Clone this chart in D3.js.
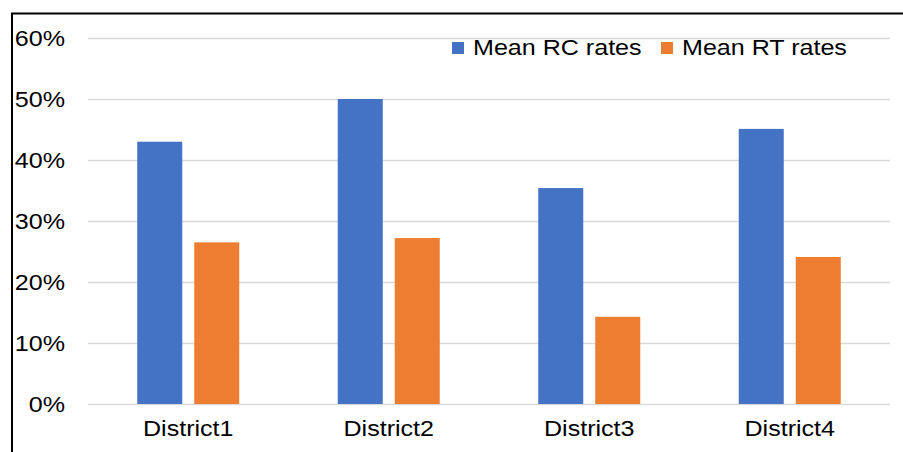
<!DOCTYPE html>
<html><head><meta charset="utf-8">
<script src="https://cdn.jsdelivr.net/npm/d3@7"></script>
<style>body{margin:0;background:#fff;}svg{display:block;font-family:"Liberation Sans",Arial,sans-serif;}</style>
</head><body><svg id="c" width="903" height="452"></svg>
<script>
const categories = ["District1","District2","District3","District4"];
const seriesNames = ["Mean RC rates","Mean RT rates"];
const rcValues = [0.43, 0.50, 0.354, 0.451];
const rtValues = [0.265, 0.272, 0.143, 0.241];
const yTicks = [0,0.1,0.2,0.3,0.4,0.5,0.6];
const colors = ["#4472C4","#ED7D31"];

const stretch = "scale(1.14,1)";
const svg = d3.select("#c");
// frame (top and left visible)
svg.append("line").attr("x1",11).attr("x2",903).attr("y1",13.5).attr("y2",13.5).attr("stroke","#000").attr("stroke-width",2);
svg.append("line").attr("x1",12).attr("x2",12).attr("y1",13).attr("y2",452).attr("stroke","#000").attr("stroke-width",2);

const x0 = d3.scaleBand().domain(categories).range([88,890]).paddingInner(0).paddingOuter(0);
const y = d3.scaleLinear().domain([0,0.6]).range([404,38]);

const grid = svg.append("g");
grid.selectAll("line").data(yTicks).join("line")
  .attr("x1",88).attr("x2",890).attr("y1",d=>Math.round(y(d))+0.5).attr("y2",d=>Math.round(y(d))+0.5)
  .attr("stroke","#d9d9d9").attr("stroke-width",1.5);

const yAxis = d3.axisLeft(y).tickValues(yTicks).tickFormat(d3.format(".0%")).tickSize(0).tickPadding(0);
const ga = svg.append("g").attr("transform","translate(65,0)").call(yAxis);
ga.select(".domain").remove();
ga.selectAll("text").attr("font-size",22).attr("fill","#000").attr("dy","0.32em").attr("x",0)
  .attr("transform",stretch)
  .attr("font-family","Liberation Sans, Arial, sans-serif");

const xAxis = d3.axisBottom(x0).tickSize(0).tickPadding(0);
const gx = svg.append("g").attr("transform","translate(0,436)").call(xAxis);
gx.select(".domain").remove();
gx.selectAll("text").attr("font-size",22).attr("fill","#000").attr("dy",0).attr("y",0)
  .attr("transform",stretch)
  .attr("font-family","Liberation Sans, Arial, sans-serif");

const data = categories.map((c,i)=>({c, vals:[rcValues[i], rtValues[i]]}));
const barW = 45, gap = 12;
const g = svg.append("g");
data.forEach(d=>{
  const cx = x0(d.c) + x0.bandwidth()/2;
  d.vals.forEach((v,k)=>{
    const xs = cx - (barW*2+gap)/2 + k*(barW+gap);
    g.append("rect").attr("x",xs).attr("width",barW)
      .attr("y",y(v)).attr("height",y(0)-y(v)).attr("fill",colors[k]);
  });
});

// legend
const legendX = [452,661];
const lg = svg.append("g");
seriesNames.forEach((n,k)=>{
  lg.append("rect").attr("x",legendX[k]).attr("y",42).attr("width",12).attr("height",12).attr("fill",colors[k]);
  lg.append("g").attr("transform",`translate(${legendX[k]+21},54.5)`)
    .append("text").attr("transform",stretch).attr("font-size",22).attr("fill","#000").text(n);
});
</script></body></html>
